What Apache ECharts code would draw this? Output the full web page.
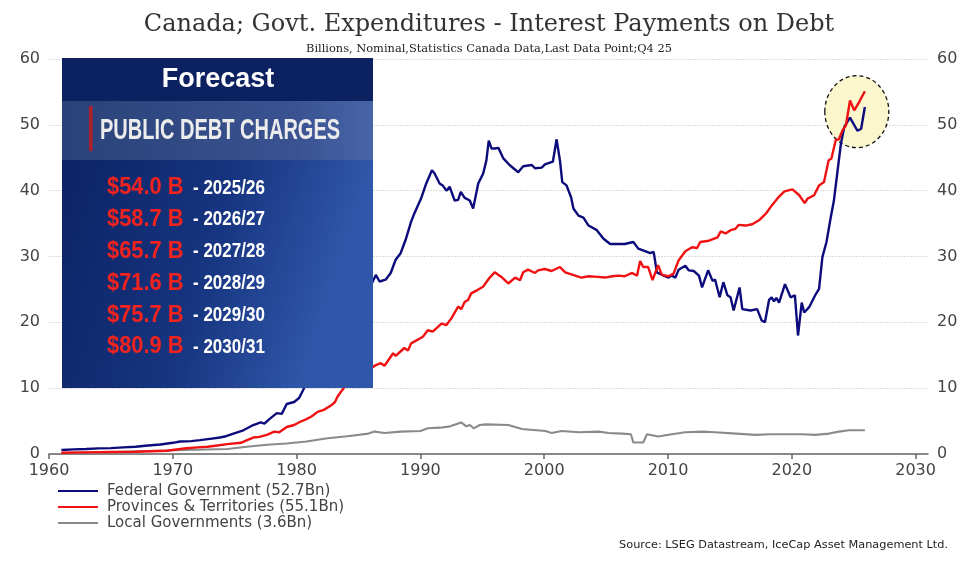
<!DOCTYPE html>
<html>
<head>
<meta charset="utf-8">
<script src="https://cdn.jsdelivr.net/npm/echarts@6/dist/echarts.min.js"></script>
<style>
html,body{margin:0;padding:0;background:#fff;}
#main{width:978px;height:575px;}
</style>
</head>
<body>
<div id="main"></div>
<script>
// ---- Data ----
const titleText = 'Canada; Govt. Expenditures - Interest Payments on Debt';
const subtitleText = 'Billions, Nominal,Statistics Canada Data,Last Data Point;Q4 25';
const sourceText = 'Source: LSEG Datastream, IceCap Asset Management Ltd.';
const seriesNames = ['Federal Government (52.7Bn)', 'Provinces & Territories (55.1Bn)', 'Local Governments (3.6Bn)'];
const xTicks = [1960, 1970, 1980, 1990, 2000, 2010, 2020, 2030];
const yTicks = [0, 10, 20, 30, 40, 50, 60];

const fedX = [1961.0,1962.0,1963.0,1964.0,1965.0,1966.0,1967.0,1968.0,1969.0,1970.0,1970.6,1971.5,1972.2,1973.0,1973.8,1974.3,1974.9,1975.7,1976.5,1977.1,1977.4,1977.8,1978.4,1978.8,1979.2,1979.8,1980.2,1980.6,
  1981.2,1981.8,1982.5,1983.2,1984.0,1984.8,1985.5,1986.1,
  1986.4,1986.7,1987.2,1987.6,1988.0,1988.4,1988.8,1989.25,1989.5,1990.05,1990.47,1990.93,1991.15,1991.55,1991.8,1992.1,1992.36,1992.77,1993.05,1993.26,1993.58,1993.99,1994.26,1994.67,1995.07,1995.33,1995.52,1995.75,1996.0,1996.3,1996.7,1997.2,1997.9,1998.3,1999.0,1999.25,1999.8,2000.06,2000.7,2001.0,2001.27,2001.46,2001.8,2002.17,2002.36,2002.77,2003.17,2003.58,2004.25,2004.79,2005.33,2006.0,2006.5,2007.2,2007.6,2008.3,2008.57,2008.84,2009.1,2009.65,2010.05,2010.3,2010.6,2010.86,2011.4,2011.67,2012.08,2012.5,2012.75,2013.24,2013.6,2013.8,2014.17,2014.47,2014.8,2015.05,2015.3,2015.78,2016.0,2016.67,2017.2,2017.56,2017.83,2018.16,2018.37,2018.56,2018.75,2018.97,2019.45,2019.9,2020.25,2020.5,2020.8,2021.0,2021.4,2021.94,2022.2,2022.47,2022.8,2023.15,2023.4,2023.7,2023.97,2024.24,2024.7,2025.3,2025.6,2025.9];
const fedY = [0.6,0.7,0.75,0.85,0.9,1.0,1.1,1.3,1.45,1.7,1.9,1.95,2.1,2.3,2.5,2.7,3.1,3.6,4.4,4.8,4.6,5.3,6.2,6.1,7.6,7.9,8.5,10.0,
  11.8,13.6,15.5,17.5,19.8,22.0,24.0,26.0,
  27.2,26.2,26.5,27.5,29.5,30.5,32.5,35.3,36.5,38.8,41.1,43.1,42.6,41.1,40.8,40.0,40.6,38.5,38.6,39.8,38.9,38.5,37.3,41.1,42.6,44.6,47.6,46.4,46.4,46.5,44.9,43.9,42.8,43.7,43.9,43.4,43.5,44.0,44.4,47.8,44.6,41.3,40.8,39.0,37.3,36.2,35.9,34.7,34.0,32.7,31.9,31.9,31.9,32.2,31.2,30.7,30.5,30.7,27.6,27.1,26.8,27.1,26.8,28.0,28.6,27.9,27.8,27.1,25.3,27.9,26.3,26.5,23.8,26.1,24.1,23.8,21.8,25.3,22.0,21.8,22.0,20.3,20.0,23.4,23.8,23.2,23.7,23.0,25.8,23.8,24.1,18.0,23.0,21.5,22.3,24.3,25.1,29.9,32.2,36.0,38.5,43.1,47.2,49.7,51.1,49.1,49.4,52.7];

const provX = [1961.0,1963.0,1965.0,1967.0,1969.5,1971.1,1972.0,1972.8,1973.6,1974.4,1975.5,1976.0,1976.5,1977.0,1977.6,1978.2,1978.6,1979.2,1979.8,1980.3,1980.8,1981.2,1981.7,1982.2,1982.8,1983.1,1983.3,1983.6,1983.9,
  1984.5,1985.2,1985.8,
  1986.4,1986.8,1987.1,1987.8,1988.0,1988.7,1989.0,1989.25,1990.2,1990.6,1991.0,1991.7,1992.1,1992.5,1993.05,1993.3,1993.57,1993.85,1994.1,1994.6,1995.06,1995.6,1996.0,1996.6,1997.1,1997.65,1998.05,1998.3,1998.7,1999.25,1999.5,2000.05,2000.6,2001.27,2001.7,2002.2,2003.0,2003.6,2004.3,2004.9,2005.5,2006.0,2006.5,2007.1,2007.5,2007.75,2008.0,2008.4,2008.75,2009.2,2009.5,2010.05,2010.45,2010.85,2011.4,2011.94,2012.35,2012.6,2013.3,2014.0,2014.25,2014.65,2015.05,2015.45,2015.7,2016.27,2016.8,2017.35,2017.9,2018.4,2018.97,2019.4,2020.05,2020.6,2021.04,2021.27,2021.8,2022.2,2022.6,2022.97,2023.2,2023.55,2023.8,2024.1,2024.37,2024.7,2025.04,2025.45,2025.9];
const provY = [0.2,0.25,0.3,0.35,0.5,0.87,1.0,1.1,1.3,1.5,1.7,2.1,2.5,2.6,2.9,3.4,3.3,4.1,4.4,4.9,5.3,5.7,6.4,6.7,7.4,7.9,8.7,9.5,10.2,
  11.0,12.0,12.8,
  13.5,13.8,13.4,15.3,14.9,16.1,15.7,16.8,17.8,18.8,18.6,19.8,19.6,20.6,22.4,22.0,23.1,23.4,24.4,24.9,25.4,26.8,27.6,26.8,25.9,26.8,26.4,27.6,28.0,27.5,27.9,28.1,27.8,28.4,27.6,27.3,26.8,27.0,26.9,26.8,27.0,27.1,27.0,27.5,27.1,29.3,28.4,28.4,26.4,28.7,27.2,27.0,27.4,29.4,30.8,31.4,31.3,32.2,32.4,32.9,33.8,33.5,34.0,34.2,34.8,34.7,34.9,35.5,36.5,37.8,39.1,39.9,40.2,39.3,38.1,38.8,39.3,40.8,41.3,44.6,44.9,47.7,47.8,49.2,49.9,53.7,52.2,53.5,55.1];

const locX = [1961.0,1965.0,1968.0,1971.0,1974.4,1976.0,1977.6,1979.2,1980.8,1982.5,1984.1,1985.8,1986.3,1987.1,1988.4,1990.0,1990.6,1991.6,1992.4,1993.3,1993.7,1994.0,1994.3,1994.8,1995.3,1997.1,1998.2,2000.1,2000.6,2001.4,2002.8,2004.4,2005.2,2006.3,2007.0,2007.2,2008.0,2008.3,2009.2,2010.3,2011.4,2012.8,2013.8,2015.5,2017.1,2018.2,2020.9,2021.9,2023.0,2023.8,2024.6,2025.9];
const locY = [0.15,0.3,0.45,0.6,0.75,1.1,1.4,1.6,1.9,2.4,2.7,3.1,3.4,3.2,3.4,3.5,3.9,4.0,4.2,4.8,4.2,4.4,3.9,4.4,4.5,4.4,3.8,3.5,3.2,3.5,3.3,3.4,3.2,3.1,3.0,1.75,1.75,3.0,2.65,3.0,3.3,3.4,3.3,3.1,2.9,3.0,3.0,2.9,3.1,3.4,3.6,3.6];

// Inset ("Forecast") texts
const insetTitle = 'Forecast';
const insetHeader = 'PUBLIC DEBT CHARGES';
const forecastAmounts = ['$54.0 B', '$58.7 B', '$65.7 B', '$71.6 B', '$75.7 B', '$80.9 B'];
const forecastYears = ['- 2025/26', '- 2026/27', '- 2027/28', '- 2028/29', '- 2029/30', '- 2030/31'];
// Highlighted region (data coordinates of the circled end of the series)
const highlightPoint = [2025.25, 52.0];

// ---- Chart ----
const colors = ['#0b0b7c', '#f01212', '#8a8a8a'];
const zip = (xs, ys) => xs.map((x, i) => [x, ys[i]]);
const chart = echarts.init(document.getElementById('main'));
const sans = 'DejaVu Sans, Liberation Sans, sans-serif';
const arial = "'Liberation Sans', Arial, sans-serif";
const serif = 'DejaVu Serif, Liberation Serif, serif';

const yAxisCommon = {
  type: 'value', min: yTicks[0], max: yTicks[yTicks.length - 1], interval: yTicks[1] - yTicks[0],
  axisLine: { show: false }, axisTick: { show: false },
  axisLabel: { fontFamily: sans, fontSize: 16, color: '#444', margin: 9 },
  splitLine: { show: true, lineStyle: { color: '#dcdcdc', width: 1, type: [2, 1] } }
};

chart.setOption({
  animation: false,
  backgroundColor: '#fff',
  color: colors,
  title: [
    { text: titleText, left: 'center', top: 8,
      textStyle: { fontFamily: serif, fontWeight: 'normal', fontSize: 24, color: '#333' } },
    { text: subtitleText, left: 'center', top: 39,
      textStyle: { fontFamily: serif, fontWeight: 'normal', fontSize: 11.4, color: '#222' } },
    { text: sourceText, right: 25, top: 535,
      textStyle: { fontFamily: sans, fontWeight: 'normal', fontSize: 11.3, color: '#222' } }
  ],
  grid: { left: 49, right: 50, top: 59, bottom: 121, containLabel: false },
  legend: {
    orient: 'vertical', left: 58, top: 483, padding: 0, icon: 'rect', itemWidth: 40, itemHeight: 2, itemGap: 0,
    textStyle: { fontFamily: sans, fontSize: 15, color: '#444', lineHeight: 16, padding: [0, 0, 0, 4] },
    data: seriesNames
  },
  xAxis: {
    type: 'value', min: xTicks[0], max: 2031, interval: 10,
    axisLine: { show: true, lineStyle: { color: '#666', width: 1.5 } },
    axisTick: { show: true, length: 5, lineStyle: { color: '#666', width: 1.5 } },
    axisLabel: { fontFamily: sans, fontSize: 16, color: '#444', margin: 9, showMaxLabel: false,
      formatter: v => (xTicks.indexOf(v) >= 0 ? String(v) : '') },
    splitLine: { show: false }
  },
  yAxis: [
    Object.assign({ position: 'left' }, yAxisCommon),
    Object.assign({ position: 'right' }, yAxisCommon, { splitLine: { show: false } })
  ],
  series: [
    { name: seriesNames[0], type: 'line', data: zip(fedX, fedY), symbol: 'none', lineStyle: { width: 2.4, color: colors[0] }, z: 3 },
    { name: seriesNames[1], type: 'line', data: zip(provX, provY), symbol: 'none', lineStyle: { width: 2.4, color: colors[1] }, z: 4 },
    { name: seriesNames[2], type: 'line', data: zip(locX, locY), symbol: 'none', lineStyle: { width: 2.1, color: colors[2] }, z: 3 }
  ]
});

// Overlays: highlight ellipse (positioned from data) and forecast inset box
const hp = chart.convertToPixel({ gridIndex: 0 }, highlightPoint);
const gridTopLeft = chart.convertToPixel({ gridIndex: 0 }, [xTicks[0], yTicks[yTicks.length - 1]]);
const ox = gridTopLeft[0] + 13, oy = gridTopLeft[1] - 1;
const Z = 100;

const insetW = 311, insetH = 330;
const insetEls = [
  { type: 'rect', z: Z, shape: { x: ox, y: oy, width: insetW, height: insetH },
    style: { fill: new echarts.graphic.LinearGradient(0, 0, 1, 0.3, [
      { offset: 0, color: '#0b2060' }, { offset: 0.6, color: '#16347f' }, { offset: 1, color: '#2f56a8' }]) } },
  { type: 'rect', z: Z + 1, shape: { x: ox, y: oy, width: insetW, height: 43 }, style: { fill: '#0b2160' } },
  { type: 'rect', z: Z + 1, shape: { x: ox, y: oy + 43, width: insetW, height: 59 },
    style: { fill: new echarts.graphic.LinearGradient(0, 0, 1, 0, [
      { offset: 0, color: '#2a4278' }, { offset: 0.75, color: '#3a5290' }, { offset: 1, color: '#4865a8' }]) } },
  { type: 'rect', z: Z + 2, shape: { x: ox + 27, y: oy + 48, width: 3.5, height: 45 }, style: { fill: '#b0202c' } },
  { type: 'text', z: Z + 2, x: ox + 156, y: oy + 22,
    style: { text: insetTitle, x: 0, y: 0, fill: '#fff', fontFamily: arial, fontWeight: 'bold', fontSize: 27, align: 'center', verticalAlign: 'middle' } },
  { type: 'text', z: Z + 2, x: ox + 38, y: oy + 73, scaleX: 0.667,
    style: { text: insetHeader, x: 0, y: 0, fill: '#ececec', fontFamily: arial, fontWeight: 'bold', fontSize: 30, align: 'left', verticalAlign: 'middle' } }
];
forecastAmounts.forEach((amt, i) => {
  const ry = oy + 130 + i * 31.8;
  insetEls.push({ type: 'text', z: Z + 2, x: ox + 45, y: ry, scaleX: 0.95,
    style: { text: amt, x: 0, y: 0, fill: '#f2231f', fontFamily: arial, fontWeight: 'bold', fontSize: 23, align: 'left', verticalAlign: 'middle' } });
  insetEls.push({ type: 'text', z: Z + 2, x: ox + 131, y: ry, scaleX: 0.85,
    style: { text: forecastYears[i], x: 0, y: 0, fill: '#ffffff', fontFamily: arial, fontWeight: 'bold', fontSize: 20, align: 'left', verticalAlign: 'middle' } });
});

chart.setOption({
  graphic: [
    { type: 'ellipse', z: 1, shape: { cx: hp[0], cy: hp[1], rx: 32, ry: 36 },
      style: { fill: '#fbf6cc', stroke: '#111', lineWidth: 1.3, lineDash: [4, 3] } }
  ].concat(insetEls)
});
</script>
</body>
</html>
